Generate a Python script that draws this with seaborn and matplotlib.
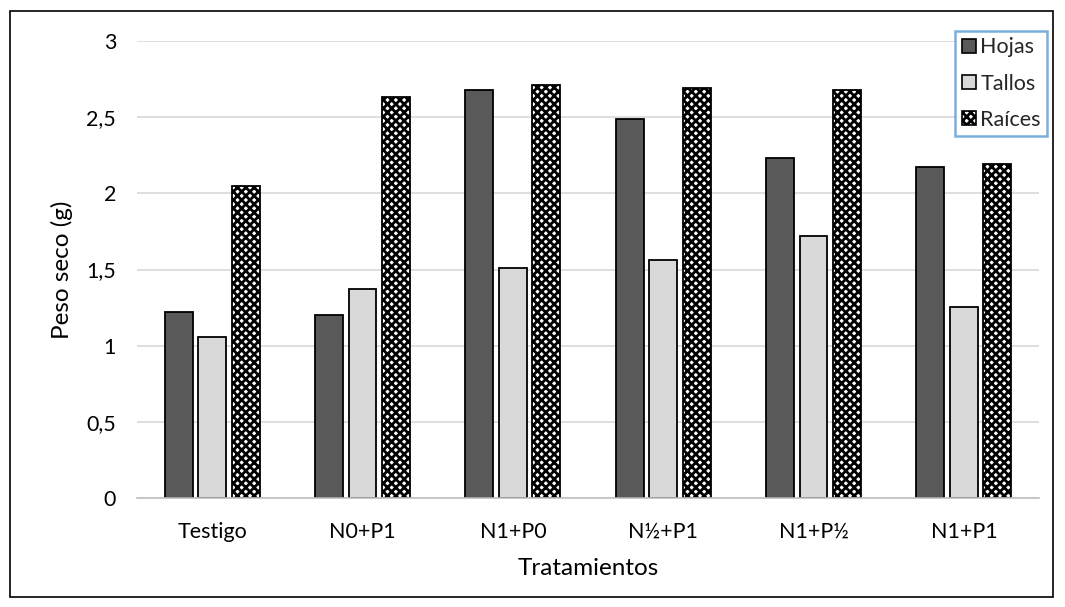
import matplotlib
matplotlib.use("Agg")
import matplotlib.pyplot as plt
import seaborn as sns
import pandas as pd
from matplotlib.patches import Rectangle
from matplotlib.ticker import FuncFormatter

tratamientos = ["Testigo", "N0+P1", "N1+P0", "N½+P1", "N1+P½", "N1+P1"]
hojas = [1.22, 1.20, 2.68, 2.49, 2.23, 2.17]
tallos = [1.055, 1.37, 1.51, 1.56, 1.72, 1.255]
raices = [2.05, 2.63, 2.71, 2.69, 2.68, 2.195]
series = ["Hojas", "Tallos", "Raíces"]
colores = ["#595959", "#D9D9D9", "#FFFFFF"]

df = pd.DataFrame({
    "Tratamiento": tratamientos * 3,
    "Serie": [series[0]] * 6 + [series[1]] * 6 + [series[2]] * 6,
    "Valor": hojas + tallos + raices,
})

sns.set_theme(style="white")
plt.rcParams["font.family"] = ["Lato", "DejaVu Sans"]
plt.rcParams["hatch.linewidth"] = 2.0

fig = plt.figure(figsize=(10.65, 6.07), dpi=100)
ax = fig.add_axes([137 / 1065, 1 - 498 / 607, 902 / 1065, 457 / 607])

sns.barplot(data=df, x="Tratamiento", y="Valor", hue="Serie",
            palette=colores, width=0.67, gap=0.17, ax=ax,
            edgecolor="black", linewidth=1.3, saturation=1, errorbar=None)

for patch in ax.containers[2]:
    patch.set_hatch("xxxx")
    patch.set_edgecolor("black")

ax.set_xlim(-0.5, 5.5)
ax.set_ylim(0, 3)
ax.set_yticks([0, 0.5, 1, 1.5, 2, 2.5, 3])
ax.yaxis.set_major_formatter(FuncFormatter(lambda v, p: f"{v:g}".replace(".", ",")))
ax.grid(axis="y", color="#D9D9D9", linewidth=1.2)
ax.set_axisbelow(True)
for s in ["top", "right", "left"]:
    ax.spines[s].set_visible(False)
ax.spines["bottom"].set_color("#BFBFBF")
ax.spines["bottom"].set_linewidth(1.2)
ax.tick_params(axis="y", length=0, pad=15, labelsize=15.5, colors="black")
ax.tick_params(axis="x", length=0, pad=17, labelsize=15.5, colors="black")
ax.set_xlabel("Tratamientos", fontsize=17.5, labelpad=12, color="black")
ax.set_ylabel("Peso seco (g)", fontsize=17.5, labelpad=10, color="black")

leg = ax.legend(loc="upper right", bbox_to_anchor=(1.009, 1.022), fontsize=15.5,
                frameon=True, fancybox=False, edgecolor="#5B9BD5",
                handlelength=0.65, handleheight=0.65, handletextpad=0.2,
                labelspacing=0.75, borderpad=0.3, borderaxespad=0)
leg.get_frame().set_linewidth(1.8)
for h in leg.legend_handles:
    h.set_edgecolor("black")
    h.set_linewidth(1.2)
leg.legend_handles[2].set_hatch("xxxx")

fig.patches.append(Rectangle((10 / 1065, 1 - 597 / 607), 1043 / 1065, 586 / 607,
                             transform=fig.transFigure, fill=False,
                             edgecolor="black", linewidth=1.2))

fig.savefig("out.png", dpi=100)
